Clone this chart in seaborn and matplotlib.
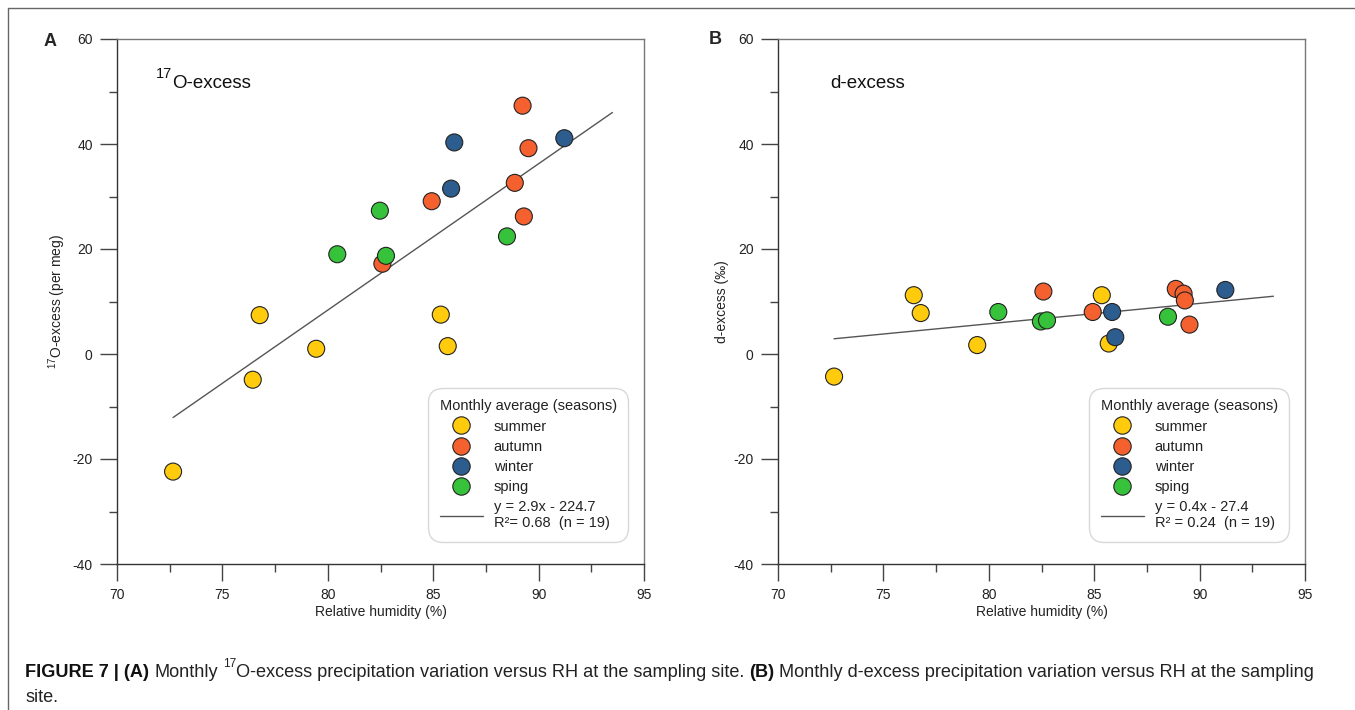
import numpy as np
import pandas as pd
import matplotlib
matplotlib.use("Agg")
import matplotlib.pyplot as plt
import seaborn as sns
from matplotlib.lines import Line2D
from matplotlib import font_manager

# ---------------- data ----------------
season = ["summer"] * 6 + ["autumn"] * 6 + ["winter"] * 3 + ["spring"] * 4
rh = [72.66, 76.44, 76.77, 79.45, 85.36, 85.69,
      82.59, 84.93, 88.87, 89.24, 89.30, 89.52,
      85.85, 86.00, 91.22,
      80.45, 82.47, 82.76, 88.50]
o17_excess = [-22.4, -4.9, 7.4, 1.0, 7.5, 1.5,
              17.2, 29.1, 32.6, 47.3, 26.2, 39.2,
              31.5, 40.3, 41.1,
              19.0, 27.3, 18.7, 22.4]
d_excess = [-4.3, 11.2, 7.8, 1.7, 11.2, 2.0,
            11.9, 8.0, 12.4, 11.5, 10.2, 5.6,
            8.0, 3.2, 12.2,
            8.0, 6.2, 6.4, 7.1]

fit_x = [72.66, 93.5]
o17_fit_y = [-12.1, 46.0]
dex_fit_y = [2.9, 11.0]

season_order = ["summer", "autumn", "winter", "spring"]
legend_labels = ["summer", "autumn", "winter", "sping"]
palette = {"summer": "#FFCB0C", "autumn": "#F4612F",
           "winter": "#2D5C8E", "spring": "#36C23B"}

o17_eq = "y = 2.9x - 224.7\nR\u00b2= 0.68  (n = 19)"
dex_eq = "y = 0.4x - 27.4\nR\u00b2 = 0.24  (n = 19)"

df = pd.DataFrame({"season": season, "rh": rh, "o17": o17_excess, "dex": d_excess})

# ---------------- style ----------------
sns.set_theme(style="ticks")
plt.rcParams["font.family"] = ["Liberation Sans", "DejaVu Sans"]
plt.rcParams["mathtext.default"] = "regular"
plt.rcParams["axes.unicode_minus"] = False

W, H = 1355, 710
fig = plt.figure(figsize=(W / 100, H / 100), dpi=100)
fig.patch.set_facecolor("white")

ax_w = 527 / W
ax_h = 525 / H
ax_b = 1 - 564 / H
axA = fig.add_axes([117 / W, ax_b, ax_w, ax_h])
axB = fig.add_axes([778 / W, ax_b, ax_w, ax_h])
renderer = fig.canvas.get_renderer()


def style_axes(ax):
    ax.set_facecolor("white")
    ax.set_xlim(70, 95)
    ax.set_ylim(-40, 60)
    ax.set_xticks(range(70, 96, 5))
    ax.set_xticks(np.arange(72.5, 95, 5), minor=True)
    ax.set_yticks(range(-40, 61, 20))
    ax.set_yticks(range(-30, 60, 20), minor=True)
    ax.tick_params(which="major", direction="out", length=12.5, width=1,
                   color="#444444", labelsize=10, labelcolor="#222222", pad=5)
    ax.tick_params(which="minor", direction="out", length=6, width=1,
                   color="#444444")
    for k, s in ax.spines.items():
        s.set_visible(True)
        s.set_linewidth(1)
        s.set_color("#333333" if k in ("left", "bottom") else "#777777")
    ax.grid(False)
    ax.set_xlabel("Relative humidity (%)", fontsize=10, color="#222222", labelpad=2)


def inner_title(ax, x, parts):
    # parts: list of (text, superscript?)
    xx = x
    for txt, sup in parts:
        fsz = 10.5 if sup else 13.5
        t = ax.text(xx, 0.907 + (0.018 if sup else 0), txt, transform=ax.transAxes,
                    fontsize=fsz, color="#111111", ha="left", va="baseline")
        bb = t.get_window_extent(renderer)
        xx += bb.width / (ax_w * W)


def draw_panel(ax, ycol, fit_y, eq, ylabel, inner, inner_x):
    sns.scatterplot(data=df, x="rh", y=ycol, hue="season", hue_order=season_order,
                    palette=palette, s=150, edgecolor="#222222", linewidth=0.8,
                    legend=False, ax=ax, zorder=3)
    sns.lineplot(x=fit_x, y=fit_y, color="#555555", linewidth=1.0, ax=ax, zorder=2)
    style_axes(ax)
    ax.set_ylabel(ylabel, fontsize=10, color="#222222", labelpad=3)
    inner_title(ax, inner_x, inner)
    handles = [Line2D([], [], marker="o", ls="", markersize=12.5,
                      markerfacecolor=palette[s], markeredgecolor="#222222",
                      markeredgewidth=0.8) for s in season_order]
    handles.append(Line2D([], [], color="#555555", lw=1.0))
    leg = ax.legend(handles, legend_labels + [eq], title="Monthly average (seasons)",
                    loc="lower left", bbox_to_anchor=(0.59, 0.042), borderaxespad=0,
                    fontsize=10.5, title_fontsize=10.5, frameon=True, fancybox=True,
                    edgecolor="#cfcfcf", handlelength=3.0, handletextpad=0.7,
                    labelspacing=0.42, borderpad=0.8, alignment="left")
    leg.get_frame().set_linewidth(1)
    leg.get_frame().set_boxstyle("round", pad=0, rounding_size=1.0)
    leg.get_title().set_color("#222222")
    for t in leg.get_texts():
        t.set_color("#222222")


draw_panel(axA, "o17", o17_fit_y, o17_eq, "$^{17}$O-excess (per meg)",
           [("17", True), ("O-excess", False)], 0.074)
draw_panel(axB, "dex", dex_fit_y, dex_eq, "d-excess (\u2030)",
           [("d-excess", False)], 0.099)

# panel letters
fig.text(50 / W, 1 - 41 / H, "A", weight="bold", fontsize=13, ha="center", va="center")
fig.text(715 / W, 1 - 39 / H, "B", weight="bold", fontsize=13, ha="center", va="center")

# outer frame (left + top)
fig.add_artist(Line2D([8 / W, 8 / W], [0, 1 - 8 / H], transform=fig.transFigure,
                      color="#666666", lw=1))
fig.add_artist(Line2D([8 / W, 1], [1 - 8 / H, 1 - 8 / H], transform=fig.transFigure,
                      color="#666666", lw=1))

# ---------------- caption ----------------
names = {f.name for f in font_manager.fontManager.ttflist}
cap_font = "Liberation Sans Narrow" if "Liberation Sans Narrow" in names else "Liberation Sans"

line1 = [("FIGURE 7 | (A)", "bold", False), ("Monthly", "normal", False),
         ("17", "normal", True), ("O-excess precipitation variation versus RH at the sampling site.", "normal", False),
         ("(B)", "bold", False),
         ("Monthly d-excess precipitation variation versus RH at the sampling", "normal", False)]
gap_after = [True, True, False, True, True, False]
line2 = [("site.", "normal", False)]


def measure(txt, fs, weight):
    t = fig.text(0, 0, txt, fontsize=fs, weight=weight, family=cap_font)
    w = t.get_window_extent(renderer).width
    t.remove()
    return w


def space_w(fs):
    return measure("x x", fs, "normal") - measure("xx", fs, "normal")


def line_width(segs, gaps, fs):
    tot = 0
    for (txt, wt, sup), g in zip(segs, gaps):
        tot += measure(txt, fs * (0.65 if sup else 1), wt)
        if g:
            tot += space_w(fs)
    return tot


fs = 13.0
target = 1313 - 25
fs = fs * target / line_width(line1, gap_after, fs)
fs = min(fs, 13.5)


def draw_line(segs, gaps, x0, base):
    x = x0
    sw = space_w(fs)
    for (txt, wt, sup), g in zip(segs, gaps):
        f = fs * (0.65 if sup else 1)
        y = base - (fs * 0.55 * 1.389 if sup else 0)
        t = fig.text(x / W, 1 - y / H, txt, fontsize=f, weight=wt, family=cap_font,
                     ha="left", va="baseline",
                     color="#111111" if wt == "bold" else "#222222")
        x += t.get_window_extent(renderer).width
        if g:
            x += sw


draw_line(line1, gap_after, 25, 677)
draw_line(line2, [False], 25, 702)

fig.savefig("out.png", dpi=100)
